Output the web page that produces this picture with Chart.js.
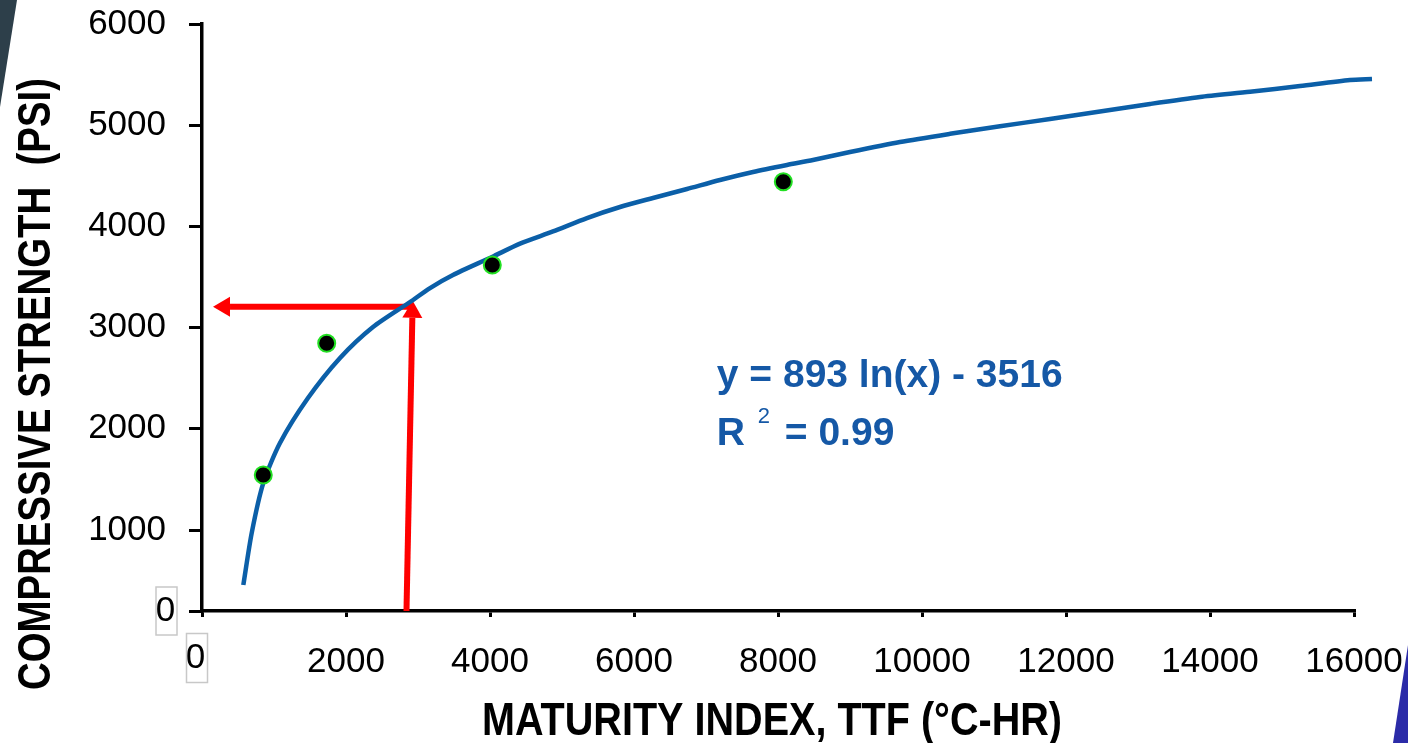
<!DOCTYPE html>
<html>
<head>
<meta charset="utf-8">
<script src="https://cdn.jsdelivr.net/npm/chart.js@4.4.1/dist/chart.umd.min.js"></script>
<style>
  html, body { margin: 0; padding: 0; background: #fff; }
  canvas { display: block; }
</style>
</head>
<body>
<canvas id="myChart" width="1408" height="743"></canvas>
<script>
// Fitted curve
const curveX = [574, 690, 851, 1083, 1472, 1917, 2375, 2889, 3167, 3486, 4028, 4417, 4875, 5347, 5806, 6264, 6736, 7194, 7653, 8125, 8486, 9000, 9694, 10389, 11083, 11778, 12472, 13167, 13861, 14556, 15250, 15944, 16250];
const curveY = [457, 970, 1464, 1860, 2304, 2700, 3006, 3253, 3391, 3520, 3698, 3830, 3950, 4083, 4192, 4281, 4370, 4459, 4538, 4607, 4656, 4735, 4834, 4915, 4990, 5061, 5135, 5210, 5279, 5330, 5387, 5447, 5457];

// Measured points
const pointsX = [851, 1732, 4032, 8074];
const pointsY = [1544, 2845, 3619, 4442];

// Ticks
const xTicks = [0, 2000, 4000, 6000, 8000, 10000, 12000, 14000, 16000];
const xTickLabels = ['0', '2000', '4000', '6000', '8000', '10000', '12000', '14000', '16000'];
const yTicks = [200, 1000, 2000, 3000, 4000, 5000, 6000];
const yTickLabels = ['0', '1000', '2000', '3000', '4000', '5000', '6000'];

// Red arrows (start -> tip)
const hArrowX = [2931, 153];
const hArrowY = [3207, 3207];
const vArrowX = [2840, 2926];
const vArrowY = [200, 3266];

const xTitle = 'MATURITY INDEX, TTF (°C-HR)';
const yTitle = 'COMPRESSIVE STRENGTH  (PSI)';
const equation = 'y = 893 ln(x) - 3516';
const r2Text = '= 0.99';

const tickFont = { family: "'Liberation Sans', Arial, sans-serif", size: 35 };
const titleFont = "bold 47px 'Liberation Sans', Arial, sans-serif";

function drawArrow(ctx, x1, y1, x2, y2) {
    const ang = Math.atan2(y2 - y1, x2 - x1);
    const len = 17, half = 10;
    const bx = x2 - len * Math.cos(ang);
    const by = y2 - len * Math.sin(ang);
    ctx.beginPath();
    ctx.moveTo(x1, y1);
    ctx.lineTo(bx, by);
    ctx.stroke();
    ctx.beginPath();
    ctx.moveTo(x2, y2);
    ctx.lineTo(bx + half * Math.sin(ang), by - half * Math.cos(ang));
    ctx.lineTo(bx - half * Math.sin(ang), by + half * Math.cos(ang));
    ctx.closePath();
    ctx.fill();
}

// condensed bold title, squeezed to the width it has in the picture
function drawTitle(ctx, text, cx, cy, width, rot) {
    ctx.save();
    ctx.translate(cx, cy);
    ctx.rotate(rot);
    ctx.font = titleFont;
    const k = width / ctx.measureText(text).width;
    ctx.scale(k, 1);
    ctx.textAlign = 'center';
    ctx.textBaseline = 'middle';
    ctx.fillStyle = '#000';
    ctx.fillText(text, 0, 0);
    ctx.restore();
}

const extras = {
    id: 'extras',
    beforeDraw(chart) {
        const ctx = chart.ctx;
        ctx.save();
        ctx.fillStyle = '#fff';
        ctx.fillRect(0, 0, chart.width, chart.height);
        // slide decorations in the corners
        ctx.fillStyle = '#2d3f4a';
        ctx.beginPath();
        ctx.moveTo(0, 0); ctx.lineTo(17, 0); ctx.lineTo(0, 107);
        ctx.closePath(); ctx.fill();
        ctx.fillStyle = '#2b2ba8';
        ctx.beginPath();
        ctx.moveTo(1408, 645); ctx.lineTo(1393, 743); ctx.lineTo(1408, 743);
        ctx.closePath(); ctx.fill();
        ctx.restore();
    },
    beforeDatasetsDraw(chart) {
        const { ctx, scales: { x, y } } = chart;
        ctx.save();
        ctx.strokeStyle = '#ff0000';
        ctx.fillStyle = '#ff0000';
        ctx.lineWidth = 6;
        drawArrow(ctx, x.getPixelForValue(hArrowX[0]), y.getPixelForValue(hArrowY[0]),
            x.getPixelForValue(hArrowX[1]), y.getPixelForValue(hArrowY[1]));
        drawArrow(ctx, x.getPixelForValue(vArrowX[0]), y.getPixelForValue(vArrowY[0]),
            x.getPixelForValue(vArrowX[1]), y.getPixelForValue(vArrowY[1]));
        ctx.restore();
    },
    afterDraw(chart) {
        const { ctx, scales: { x, y }, chartArea } = chart;
        ctx.save();
        // the two boxed zero labels
        ctx.font = `${tickFont.size}px ${tickFont.family}`;
        ctx.fillStyle = '#000';
        ctx.textAlign = 'center';
        ctx.textBaseline = 'middle';
        ctx.strokeStyle = '#c8c8c8';
        ctx.lineWidth = 1.5;
        const yx = chartArea.left - 35.5, yy = y.getPixelForValue(yTicks[0]);
        ctx.fillText(yTickLabels[0], yx - 1, yy);
        ctx.strokeRect(yx - 10.5, yy - 24, 21, 48);
        const xx = x.getPixelForValue(xTicks[0]) - 5, xy = chartArea.bottom + 47;
        ctx.fillText(xTickLabels[0], xx - 1.5, xy);
        ctx.strokeRect(xx - 10.5, xy - 24.5, 21, 49);

        // axis titles
        drawTitle(ctx, yTitle, 37, 384, 612, -Math.PI / 2);
        drawTitle(ctx, xTitle, 772, 722, 580, 0);

        // equation
        const ex = x.getPixelForValue(7150);
        const ey = y.getPixelForValue(2413);
        ctx.fillStyle = '#1558a6';
        ctx.textAlign = 'left';
        ctx.textBaseline = 'alphabetic';
        ctx.font = "bold 39px 'Liberation Sans', Arial, sans-serif";
        ctx.fillText(equation, ex, ey);
        ctx.fillText('R', ex, ey + 58);
        ctx.fillText(r2Text, ex + 68, ey + 58);
        ctx.font = "22px 'Liberation Sans', Arial, sans-serif";
        ctx.fillText('2', ex + 41, ey + 36);
        ctx.restore();
    }
};

const config = {
    type: 'scatter',
    data: {
        datasets: [
            {
                label: 'Datos',
                data: pointsX.map((v, i) => ({ x: v, y: pointsY[i] })),
                pointRadius: 8.5,
                pointBackgroundColor: '#000',
                pointBorderColor: '#22e022',
                pointBorderWidth: 2
            },
            {
                label: 'Ajuste',
                data: curveX.map((v, i) => ({ x: v, y: curveY[i] })),
                showLine: true,
                borderColor: '#0b5fa8',
                borderWidth: 4.5,
                pointRadius: 0,
                tension: 0.25,
                clip: false
            }
        ]
    },
    options: {
        responsive: false,
        animation: false,
        devicePixelRatio: 1,
        layout: { padding: { top: 24, right: 54, bottom: 0, left: 0 } },
        plugins: {
            legend: { display: false },
            tooltip: { enabled: false }
        },
        scales: {
            x: {
                type: 'linear',
                min: 0,
                max: 16000,
                afterBuildTicks: (s) => { s.ticks = xTicks.map(v => ({ value: v })); },
                afterFit: (s) => { s.height = 132; s.paddingLeft = 0; s.paddingRight = 0; },
                ticks: {
                    font: tickFont,
                    color: '#000',
                    padding: 24,
                    maxRotation: 0,
                    autoSkip: false,
                    callback: (v, i) => i === 0 ? '' : xTickLabels[i]
                },
                grid: { drawOnChartArea: false, drawTicks: true, tickLength: 6, color: '#000', lineWidth: 3 },
                border: { display: true, color: '#000', width: 3.5 }
            },
            y: {
                type: 'linear',
                min: 200,
                max: 6000,
                afterBuildTicks: (s) => { s.ticks = yTicks.map(v => ({ value: v })); },
                afterFit: (s) => { s.width = 202; s.paddingTop = 0; s.paddingBottom = 0; },
                ticks: {
                    font: tickFont,
                    color: '#000',
                    padding: 23,
                    autoSkip: false,
                    callback: (v, i) => i === 0 ? '' : yTickLabels[i]
                },
                grid: { drawOnChartArea: false, drawTicks: true, tickLength: 13, color: '#000', lineWidth: 3 },
                border: { display: true, color: '#000', width: 3.5 }
            }
        }
    },
    plugins: [extras]
};

const myChart = new Chart(document.getElementById('myChart'), config);
</script>
</body>
</html>
